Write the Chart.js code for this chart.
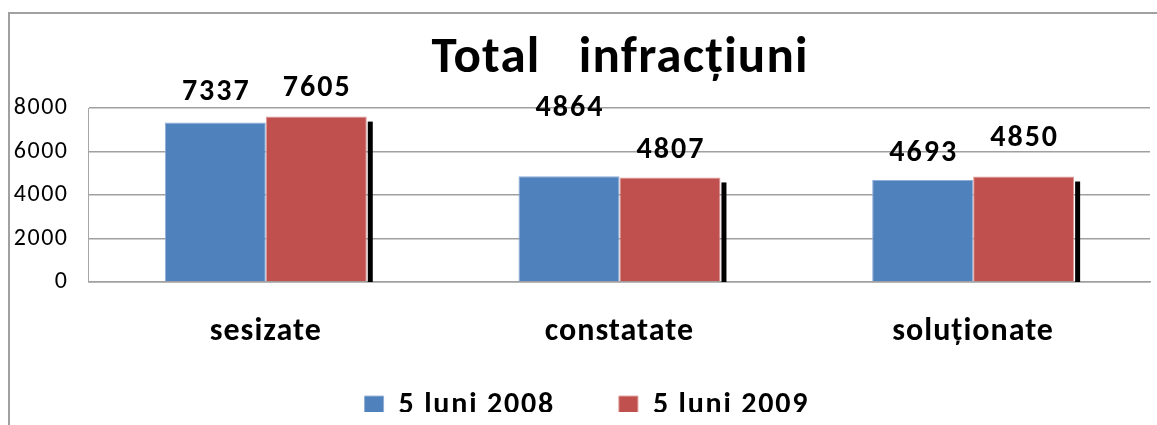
<!DOCTYPE html>
<html>
<head>
<meta charset="utf-8">
<title>Total infracțiuni</title>
<script src="https://cdn.jsdelivr.net/npm/chart.js@4.4.1/dist/chart.umd.min.js"></script>
<style>
  html, body { margin: 0; padding: 0; background: #fff; overflow: hidden; }
  #frame {
    position: absolute; left: 8px; top: 12px; width: 1200px; height: 500px;
    border-left: 2px solid #a0a0a0; border-top: 2px solid #a0a0a0;
  }
  #clip { position: absolute; left: 0; top: 0; width: 1157px; height: 412px; overflow: hidden; }
  canvas { display: block; }
</style>
</head>
<body>
<div id="frame"></div>
<div id="clip"><canvas id="chart" width="1157" height="450"></canvas></div>
<script>
// --- DATA ---
const categories = ["sesizate", "constatate", "soluționate"];
const seriesNames = ["5 luni 2008", "5 luni 2009"];
const values2008 = [7337, 4864, 4693];
const values2009 = [7605, 4807, 4850];
const yTicks = [0, 2000, 4000, 6000, 8000];
const chartTitle = "Total   infracțiuni";

// how far (px) each value label sits above its bar, as placed in the original
const labelLift = [[30, 68, 26], [28, 27, 38]];

const FONT = "Carlito, Lato, sans-serif";

// --- helpers ---
function spacedText(ctx, text, x, y, spacing) {
    ctx.letterSpacing = spacing + "px";
    const w = ctx.measureText(text).width - spacing; // drop trailing gap
    ctx.textAlign = "left";
    ctx.fillText(text, x - w / 2, y);
}

// run a method of a chart part with its own letter spacing (and optional nudge)
function withSpacing(obj, method, px, dx = 0, dy = 0) {
    const key = "_sp_" + method;
    if (!obj || obj[key]) return;
    const orig = obj[method];
    obj[method] = function (...args) {
        const c = this.ctx;
        c.save();
        c.letterSpacing = px;
        if (dx || dy) c.translate(dx, dy);
        const r = orig.apply(this, args);
        c.restore();
        return r;
    };
    obj[key] = true;
}

// --- plugin: letter spacing, title, value labels, bar shadows ---
const decorPlugin = {
    id: "decor",
    beforeLayout(chart) {
        chart.ctx.letterSpacing = "1.5px";
        withSpacing(chart.legend, "fit", "1.8px");
        withSpacing(chart.legend, "draw", "1.8px", 5, -7);
    },
    afterLayout(chart) {
        const xs = chart.scales.x;
        withSpacing(xs, "drawLabels", "1px");
        xs._computeLabelArea = () => undefined; // category labels may hang below the axis box
    },
    beforeDraw(chart) {
        chart.ctx.letterSpacing = "1.5px";
    },
    afterDatasetsDraw(chart) {
        // thin black shadow on the right of the 2009 bars
        const ctx = chart.ctx;
        const base = chart.scales.y.getPixelForValue(0);
        ctx.save();
        ctx.fillStyle = "#000";
        chart.getDatasetMeta(1).data.forEach(bar => {
            const right = bar.x + bar.width / 2;
            ctx.fillRect(right + 1, bar.y + 5, 5, base - bar.y - 5);
        });
        ctx.restore();
    },
    afterDraw(chart) {
        const ctx = chart.ctx;
        const area = chart.chartArea;
        ctx.save();
        ctx.fillStyle = "#000";

        // title
        ctx.font = "bold 51px " + FONT;
        ctx.textBaseline = "alphabetic";
        spacedText(ctx, chartTitle, (area.left + area.right) / 2, 72, 1.2);

        // value labels
        ctx.font = "bold 30px " + FONT;
        ctx.textBaseline = "middle";
        chart.data.datasets.forEach((ds, di) => {
            chart.getDatasetMeta(di).data.forEach((bar, i) => {
                spacedText(ctx, String(ds.data[i]), bar.x, bar.y - labelLift[di][i], 2);
            });
        });
        ctx.restore();
    }
};

// --- CHART ---
const ctx = document.getElementById("chart").getContext("2d");

new Chart(ctx, {
    type: "bar",
    data: {
        labels: categories,
        datasets: [
            {
                label: seriesNames[0],
                data: values2008,
                backgroundColor: "#4F81BD",
                borderColor: "#8FADD6",
                borderWidth: 1
            },
            {
                label: seriesNames[1],
                data: values2009,
                backgroundColor: "#C0504D",
                borderColor: "#DC9A98",
                borderWidth: 1
            }
        ]
    },
    options: {
        responsive: false,
        animation: false,
        devicePixelRatio: 1,
        layout: { padding: { left: 13.8, right: 7, top: 108, bottom: 12.4 } },
        datasets: {
            bar: { categoryPercentage: 0.571, barPercentage: 1 }
        },
        scales: {
            x: {
                grid: { display: false, tickLength: 48.4 },
                border: { color: "#a0a0a0", width: 1.5 },
                ticks: {
                    color: "#000",
                    padding: 0,
                    font: { family: FONT, size: 32, weight: "bold", lineHeight: 0.1 }
                }
            },
            y: {
                min: 0,
                max: yTicks[yTicks.length - 1],
                afterBuildTicks(scale) {
                    scale.ticks = yTicks.map(v => ({ value: v }));
                },
                grid: {
                    color: "#a0a0a0",
                    lineWidth: 1.5,
                    drawTicks: true,
                    tickLength: 20.5,
                    tickColor: "rgba(0,0,0,0)"
                },
                border: { color: "#a6a6a6", width: 1 },
                ticks: {
                    color: "#000",
                    padding: 0,
                    font: { family: FONT, size: 24 },
                    callback: v => String(v)
                }
            }
        },
        plugins: {
            title: { display: false },
            tooltip: { enabled: false },
            legend: {
                position: "bottom",
                labels: {
                    color: "#000",
                    boxWidth: 19,
                    boxHeight: 19,
                    padding: 64,
                    font: { family: FONT, size: 30, weight: "bold" }
                }
            }
        }
    },
    plugins: [decorPlugin]
});
</script>
</body>
</html>
